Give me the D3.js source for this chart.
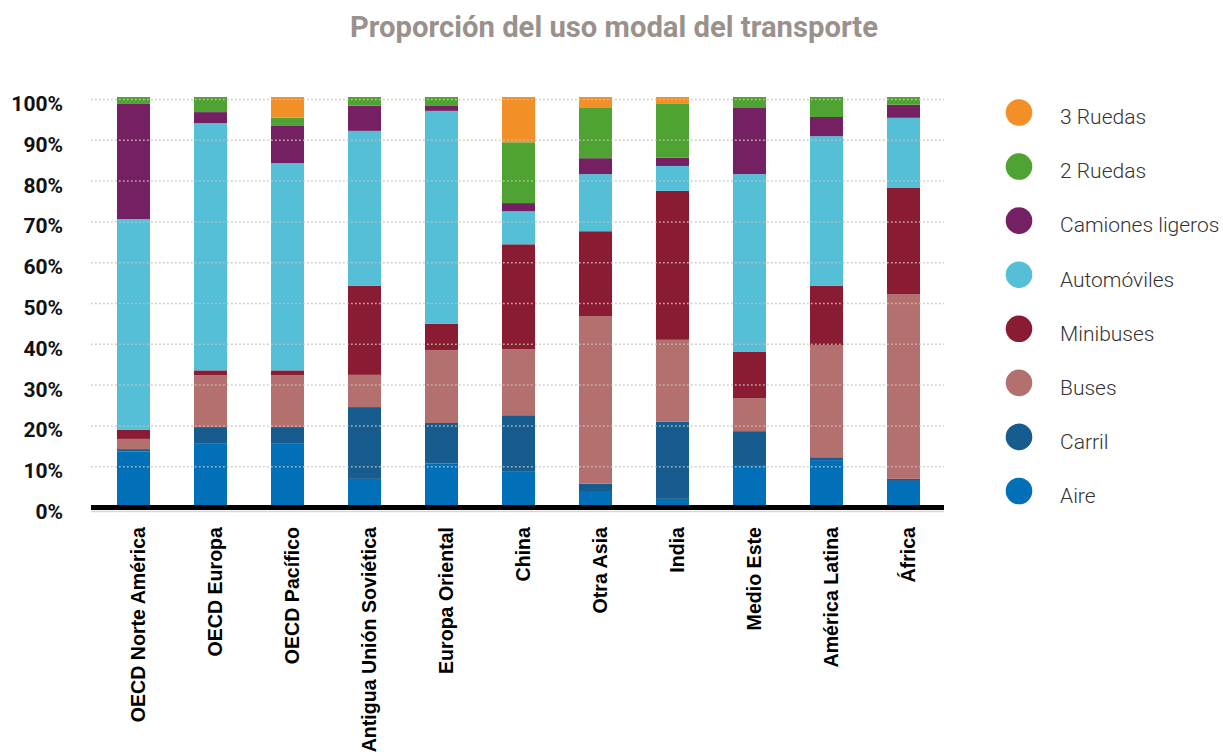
<!DOCTYPE html>
<html>
<head>
<meta charset="utf-8">
<script src="https://cdn.jsdelivr.net/npm/d3@7"></script>
<style>
  html, body { margin: 0; padding: 0; background: #fff; }
  svg { display: block; }
</style>
</head>
<body>
<svg id="chart" width="1223" height="756"></svg>
<script>
// ---- Data ----
const categories = ["OECD Norte América", "OECD Europa", "OECD Pacífico", "Antigua Unión Soviética",
  "Europa Oriental", "China", "Otra Asia", "India", "Medio Este", "América Latina", "África"];

const seriesNames = ["Aire", "Carril", "Buses", "Minibuses", "Automóviles", "Camiones ligeros", "2 Ruedas", "3 Ruedas"];

const aire        = [13.1, 15.0, 15.0,  6.4, 10.2,  8.3,  3.2,  1.5,  9.8, 11.0,  5.9];
const carril      = [ 0.6,  4.1,  4.1, 17.6,  9.9, 13.7,  2.0, 18.9,  8.3,  0.7,  0.5];
const buses       = [ 2.5, 12.7, 12.7,  7.9, 17.9, 16.2, 41.1, 20.1,  8.1, 27.5, 45.3];
const minibuses   = [ 2.2,  1.2,  1.2, 21.8,  6.4, 25.7, 20.8, 36.5, 11.3, 14.5, 26.0];
const automoviles = [51.7, 60.6, 50.8, 38.0, 52.2,  8.1, 14.0,  6.1, 43.6, 36.7, 17.2];
const camiones    = [28.2,  2.7,  9.1,  6.2,  1.2,  2.0,  3.9,  2.0, 16.2,  4.7,  3.2];
const ruedas2     = [ 1.7,  3.7,  2.0,  2.1,  2.2, 14.9, 12.3, 13.2,  2.7,  4.9,  1.9];
const ruedas3     = [ 0.0,  0.0,  5.1,  0.0,  0.0, 11.1,  2.7,  1.7,  0.0,  0.0,  0.0];

const seriesColors = ["#0170b9", "#175c8e", "#b3706e", "#891c32", "#54bfd7", "#752062", "#4ea332", "#f28f27"];
const yTicks = [0, 10, 20, 30, 40, 50, 60, 70, 80, 90, 100];
const yTickLabels = ["0%", "10%", "20%", "30%", "40%", "50%", "60%", "70%", "80%", "90%", "100%"];
const titleText = "Proporción del uso modal del transporte";

// ---- Build table ----
const seriesValues = [aire, carril, buses, minibuses, automoviles, camiones, ruedas2, ruedas3];
const table = categories.map((c, i) => {
  const row = { cat: c };
  seriesNames.forEach((s, j) => row[s] = seriesValues[j][i]);
  return row;
});
const stacked = d3.stack().keys(seriesNames)(table);

// ---- Scales ----
const svg = d3.select("#chart");
const x = d3.scaleBand().domain(categories).range([95, 942]).paddingInner(0.571).paddingOuter(0.2855);
const y = d3.scaleLinear().domain([0, 100]).range([505, 97]);
const color = d3.scaleOrdinal().domain(seriesNames).range(seriesColors);

// Title
svg.append("text")
  .attr("x", 614).attr("y", 37)
  .attr("text-anchor", "middle")
  .attr("font-family", "Roboto, sans-serif")
  .attr("font-weight", 700)
  .attr("font-size", 29)
  .attr("fill", "#9a918d")
  .attr("textLength", 528)
  .attr("lengthAdjust", "spacingAndGlyphs")
  .text(titleText);

// Bars
svg.append("g").selectAll("g")
  .data(stacked)
  .join("g")
  .attr("fill", d => color(d.key))
  .selectAll("rect")
  .data(d => d)
  .join("rect")
  .attr("x", d => x(d.data.cat))
  .attr("width", x.bandwidth())
  .attr("y", d => y(d[1]))
  .attr("height", d => Math.max(0, y(d[0]) - y(d[1])));

// Gridlines (drawn over bars)
svg.append("g").selectAll("line")
  .data(yTicks.filter(t => t > 0))
  .join("line")
  .attr("x1", 91).attr("x2", 944)
  .attr("y1", d => y(d) + 2.5).attr("y2", d => y(d) + 2.5)
  .attr("stroke", "#c9c1b9")
  .attr("stroke-opacity", 0.85)
  .attr("stroke-width", 1.5)
  .attr("stroke-dasharray", "1.7,2.3");

// Y tick labels
svg.append("g").selectAll("text")
  .data(yTicks)
  .join("text")
  .attr("x", 63)
  .attr("y", d => y(d) + 14)
  .attr("text-anchor", "end")
  .attr("font-family", "Roboto, sans-serif")
  .attr("font-weight", 700)
  .attr("font-size", 21)
  .attr("fill", "#111")
  .text((d, i) => yTickLabels[i]);

// Axis baseline
svg.append("line")
  .attr("x1", 91).attr("x2", 944)
  .attr("y1", y(0) + 6.5).attr("y2", y(0) + 6.5)
  .attr("stroke", "#d6d6d6").attr("stroke-width", 1.5);
svg.append("line")
  .attr("x1", 91).attr("x2", 944)
  .attr("y1", y(0) + 2.5).attr("y2", y(0) + 2.5)
  .attr("stroke", "#000").attr("stroke-width", 5);

// X labels (rotated)
svg.append("g").selectAll("text")
  .data(categories)
  .join("text")
  .attr("transform", d => `translate(${x(d) + x.bandwidth() / 2 + 11},527) rotate(-90)`)
  .attr("text-anchor", "end")
  .attr("font-family", "'Liberation Sans', Arial, sans-serif")
  .attr("font-weight", 700)
  .attr("font-size", 19.6)
  .attr("fill", "#000")
  .text(d => d);

// Legend (top to bottom: 3 Ruedas ... Aire)
const legendOrder = seriesNames.slice().reverse();
const lg = svg.append("g").selectAll("g")
  .data(legendOrder)
  .join("g")
  .attr("transform", (d, i) => `translate(1019,${112.5 + i * 54.07})`);
lg.append("circle").attr("r", 13.3).attr("fill", d => color(d));
lg.append("text")
  .attr("x", 41).attr("y", 11.8)
  .attr("font-family", "Roboto, sans-serif")
  .attr("font-weight", 300)
  .attr("font-size", 21)
  .attr("fill", "#333")
  .text(d => d);
</script>
</body>
</html>
